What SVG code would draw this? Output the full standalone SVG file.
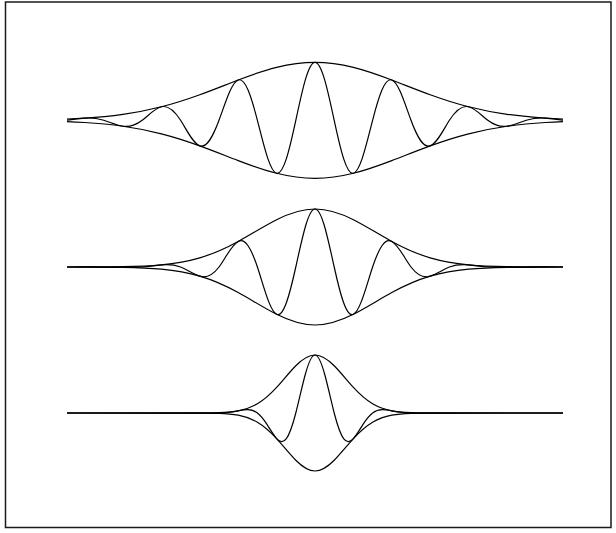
<svg xmlns="http://www.w3.org/2000/svg" width="616" height="533" viewBox="0 0 616 533">
<style>
.c{fill:none;stroke:#000;stroke-width:1.2;stroke-linejoin:round}
.frame{fill:#fff;stroke:#1a1a1a;stroke-width:1.5}
</style>
<defs>
<path id="e1" d="M0,-58 C12.8,-58 25.6,-56.167 38.4,-52.954 C51.2,-49.741 64,-45.192 76.8,-40.301 C89.6,-35.41 102.4,-30.219 115.2,-25.565 C128,-20.911 140.8,-16.8 153.6,-13.519 C166.4,-10.238 179.2,-7.768 192,-5.96 C204.8,-4.151 217.6,-2.987 230.4,-2.189 C236.27,-1.824 242.13,-1.536 248,-1.302"/>
<path id="w1" d="M0,-58 C6.949,-58 12.931,-29.077 19.2,0 C25.469,29.077 31.451,54.699 38.4,52.954 C45.349,51.21 51.331,24.239 57.6,0 C63.869,-24.239 69.851,-42.956 76.8,-40.301 C83.749,-37.646 89.731,-16.841 96,0 C102.269,16.841 108.251,28.092 115.2,25.565 C122.149,23.038 128.131,9.755 134.4,0 C140.669,-9.755 146.651,-15.3 153.6,-13.519 C160.549,-11.738 166.531,-4.71 172.8,0 C179.069,4.71 185.051,6.941 192,5.96 C198.949,4.978 204.931,1.895 211.2,0 C217.469,-1.895 223.451,-2.622 230.4,-2.189 C236.27,-1.824 242.13,-0.821 248,-0.171"/>
<path id="e2" d="M0,-58 C12.8,-58 25.6,-53.712 38.4,-47.259 C51.2,-40.807 64,-32.546 76.8,-25.565 C89.6,-18.584 102.4,-12.943 115.2,-9.182 C128,-5.421 140.8,-3.385 153.6,-2.189 C166.4,-0.994 179.2,-0.583 192,-0.347 C204.8,-0.11 217.6,-0.066 230.4,-0.036 L248,0"/>
<path id="w2" d="M0,-58 C6.949,-58 12.931,-28.263 19.2,0 C25.469,28.263 31.451,50.762 38.4,47.259 C45.349,43.756 51.331,18.764 57.6,0 C63.869,-18.764 69.851,-29.355 76.8,-25.565 C83.749,-21.775 89.731,-8.271 96,0 C102.269,8.271 108.251,11.224 115.2,9.182 C122.149,7.14 128.131,2.42 134.4,0 C140.669,-2.42 146.651,-2.839 153.6,-2.189 C160.549,-1.54 166.531,-0.47 172.8,0 C179.069,0.47 185.051,0.475 192,0.347 C198.949,0.218 204.931,0.061 211.2,0 C217.469,-0.061 223.451,-0.053 230.4,-0.036 L248,0"/>
<path id="e3" d="M0,-58 C6.4,-58 12.8,-53.712 19.2,-47.259 C25.6,-40.807 32,-32.546 38.4,-25.565 C44.8,-18.584 51.2,-12.943 57.6,-9.182 C64,-5.421 70.4,-3.385 76.8,-2.189 C83.2,-0.994 89.6,-0.583 96,-0.347 C102.4,-0.11 108.8,-0.066 115.2,-0.036 L248,0"/>
<path id="w3" d="M0,-58 C3.2,-58 6.4,-50.497 9.6,-38.966 C12.8,-27.435 16,-12.372 19.2,0 C22.4,12.372 25.6,21.746 28.8,25.87 C32,29.994 35.2,29.056 38.4,25.565 C41.6,22.074 44.8,16.335 48,11.403 C51.2,6.472 54.4,2.404 57.6,0 C60.8,-2.404 64,-3.261 67.2,-3.337 C70.4,-3.413 73.6,-2.787 76.8,-2.189 C83.2,-0.994 89.6,-0.181 96,0 C102.4,0.181 108.8,0.066 115.2,0.036 L248,0"/>
</defs>
<rect class="frame" x="5.5" y="2" width="605.5" height="525.5"/>
<g id="packet-1" class="c" transform="translate(315,120.3)">
<use href="#e1"/><use href="#e1" transform="scale(-1,1)"/><use href="#e1" transform="scale(1,-1)"/><use href="#e1" transform="scale(-1,-1)"/>
<use href="#w1"/><use href="#w1" transform="scale(-1,1)"/>
</g>
<g id="packet-2" class="c" transform="translate(315,267)">
<use href="#e2"/><use href="#e2" transform="scale(-1,1)"/><use href="#e2" transform="scale(1,-1)"/><use href="#e2" transform="scale(-1,-1)"/>
<use href="#w2"/><use href="#w2" transform="scale(-1,1)"/>
</g>
<g id="packet-3" class="c" transform="translate(315,413)">
<use href="#e3"/><use href="#e3" transform="scale(-1,1)"/><use href="#e3" transform="scale(1,-1)"/><use href="#e3" transform="scale(-1,-1)"/>
<use href="#w3"/><use href="#w3" transform="scale(-1,1)"/>
</g>
<g id="connectors"/>
</svg>
